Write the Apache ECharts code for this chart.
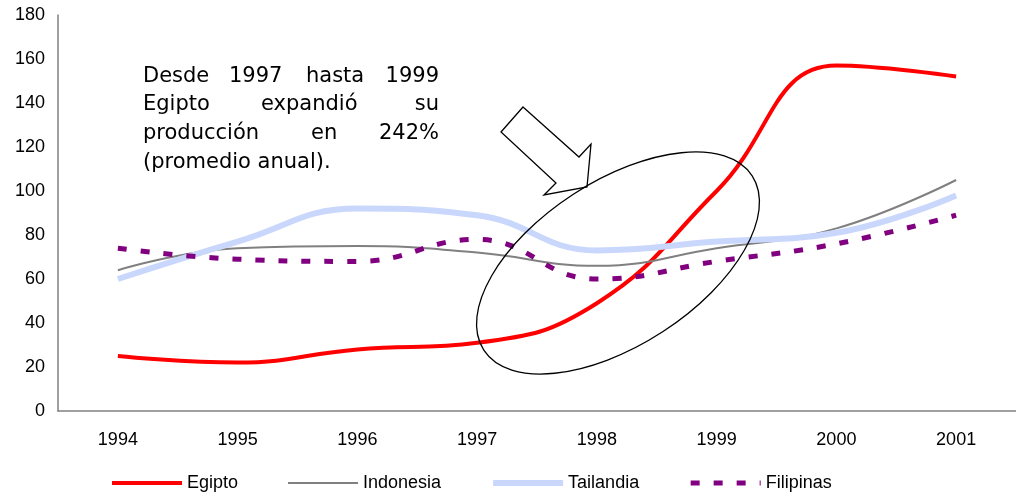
<!DOCTYPE html>
<html>
	<head>
		<meta charset="utf-8">
		<title></title>
		<style type="text/css">
			body{ margin:0; background:#fff; }
			#main{
				width: 1016px;
				height: 494px;
			}
		</style>
	</head>
	<body>
		<div id="main"></div>
	</body>
<script src="https://cdn.jsdelivr.net/npm/echarts@6/dist/echarts.min.js" type="text/javascript" charset="utf-8"></script>
<script type="text/javascript">
	// datos
	var years = ['1994', '1995', '1996', '1997', '1998', '1999', '2000', '2001']
	var egipto = [25, 22, 28, 31, 49, 100, 157, 152]
	var indonesia = [64, 74, 75, 72, 66, 74, 83, 105]
	var tailandia = [60, 77, 92, 89, 73, 77, 81, 98]
	var filipinas = [74, 69, 68, 78, 60, 68, 76, 89]
	var yTicks = [0, 180, 20]   // min, max, intervalo

	var chartDom = document.getElementById('main');
	var myChart = echarts.init(chartDom);
	var option;

	var noteFont = '21px "DejaVu Sans"'
	// texto justificado: cada palabra por separado
	var words = [
		['Desde', 143, 77, 'left'], ['1997', 229, 77, 'left'], ['hasta', 306, 77, 'left'], ['1999', 439, 77, 'right'],
		['Egipto', 143, 105, 'left'], ['expandió', 261, 105, 'left'], ['su', 439, 105, 'right'],
		['producción', 143, 134, 'left'], ['en', 311, 134, 'left'], ['242%', 439, 134, 'right'],
		['(promedio anual).', 143, 163, 'left']
	]
	var graphics = []
	for (var i = 0; i < words.length; i++) {
		graphics.push({
			type: 'text', z: 100,
			style: { text: words[i][0], x: words[i][1], y: words[i][2], textAlign: words[i][3],
				textVerticalAlign: 'middle', font: noteFont, fill: '#000' }
		})
	}
	// flecha
	graphics.push({
		type: 'polygon', z: 100,
		shape: { points: [[523, 107], [579, 157], [591, 144], [587, 187], [544, 195], [556, 183], [501, 132]] },
		style: { fill: '#fff', stroke: '#000', lineWidth: 1.3 }
	})
	// elipse
	graphics.push({
		type: 'ellipse', z: 100,
		x: 618, y: 263, rotation: 33 * Math.PI / 180,
		shape: { cx: 0, cy: 0, rx: 160, ry: 82 },
		style: { fill: 'none', stroke: '#000', lineWidth: 1.3 }
	})

	option = {
		animation: false,
		backgroundColor: '#fff',
		textStyle: { fontFamily: '"Liberation Sans", Arial, sans-serif' },
		grid: { left: 58, top: 15, width: 962, bottom: 83, containLabel: false },
		legend: {
			left: 110, top: 474, padding: 0,
			itemWidth: 70, itemHeight: 14, itemGap: 49,
			itemStyle: { opacity: 0 },
			lineStyle: { width: 'inherit' },
			textStyle: { fontSize: 18, color: '#000' },
			data: ['Egipto', 'Indonesia', 'Tailandia', 'Filipinas']
		},
		xAxis: {
			type: 'category',
			data: years,
			boundaryGap: true,
			axisLine: { lineStyle: { color: '#808080', width: 1.5 } },
			axisTick: { show: false },
			axisLabel: { margin: 20, fontSize: 18, color: '#000' }
		},
		yAxis: {
			type: 'value',
			min: yTicks[0], max: yTicks[1], interval: yTicks[2],
			axisLine: { show: true, lineStyle: { color: '#808080', width: 1.5 } },
			axisTick: { show: false },
			splitLine: { show: false },
			axisLabel: { margin: 13, fontSize: 18, color: '#000' }
		},
		series: [
			{ name: 'Egipto', type: 'line', data: egipto, smooth: 0.45, symbol: 'none',
			  color: '#ff0000', lineStyle: { color: '#ff0000', width: 4 } },
			{ name: 'Indonesia', type: 'line', data: indonesia, smooth: 0.45, symbol: 'none',
			  color: '#808080', lineStyle: { color: '#808080', width: 2 } },
			{ name: 'Tailandia', type: 'line', data: tailandia, smooth: 0.45, symbol: 'none',
			  color: '#c9d7fc', lineStyle: { color: '#c9d7fc', width: 6 } },
			{ name: 'Filipinas', type: 'line', data: filipinas, smooth: 0.45, symbol: 'none',
			  color: '#800080', lineStyle: { color: '#800080', width: 5, type: [9, 14] } }
		],
		graphic: graphics
	};

	option && myChart.setOption(option);
</script>
</html>
